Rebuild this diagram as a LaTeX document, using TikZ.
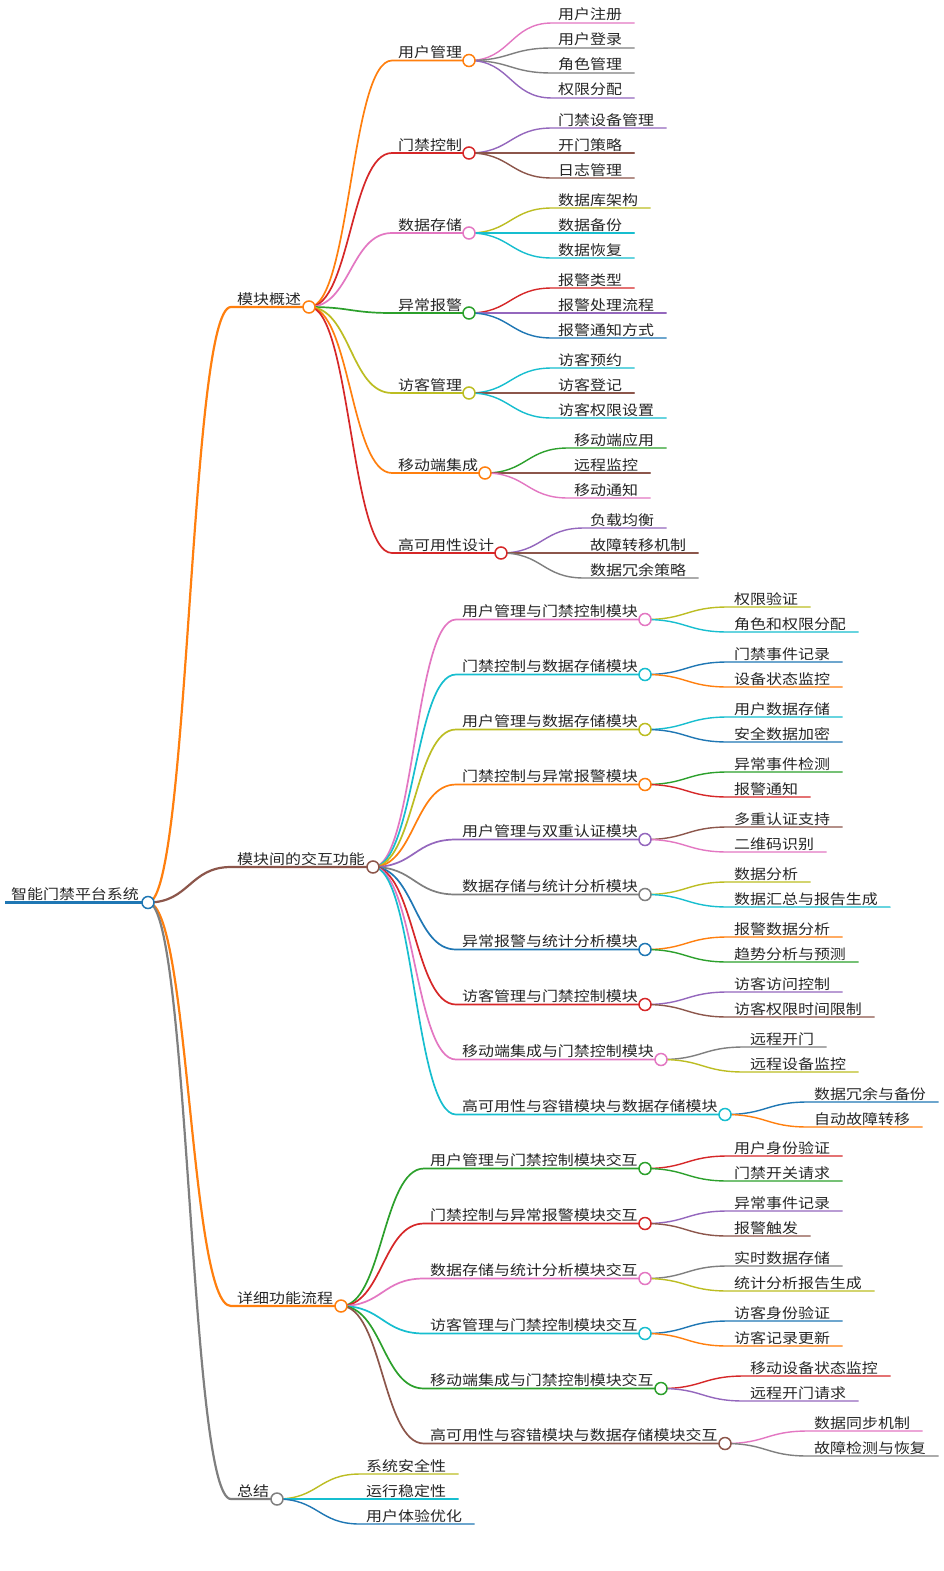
\documentclass[tikz,border=0pt]{standalone}
\usepackage{fontspec}
\newfontfamily\cjk[FakeStretch=1.14]{Noto Sans CJK SC}
\usetikzlibrary{calc}
\definecolor{cB}{HTML}{1F77B4}
\definecolor{cO}{HTML}{FF7F0E}
\definecolor{cGr}{HTML}{2CA02C}
\definecolor{cR}{HTML}{D62728}
\definecolor{cPu}{HTML}{9467BD}
\definecolor{cBr}{HTML}{8C564B}
\definecolor{cPk}{HTML}{E377C2}
\definecolor{cG}{HTML}{7F7F7F}
\definecolor{cOl}{HTML}{BCBD22}
\definecolor{cC}{HTML}{17BECF}
\pgfdeclarelayer{back}\pgfdeclarelayer{bg}\pgfsetlayers{back,bg,main}
\tikzset{
  mmcirc/.style={circle, fill=white, line width=1.5pt, minimum size=12pt, inner sep=0pt},
  mmtext/.style={anchor=base west, inner sep=0pt, font=\cjk\fontsize{14}{16}\selectfont, text=black!85},
}
\newcommand\inode[6]{%
  \coordinate (#1s) at (#2,#3);
  \node[mmcirc,draw=#6] (#1) at (#4,#3) {};
  \node[mmtext] (#1t) at (#2+6,#3-3) {#5};}
\newcommand\leafnode[4]{%
  \coordinate (#1s) at (#2,#3);
  \node[mmtext] (#1t) at (#2+6,#3-3) {#4};
  \coordinate (#1) at ($(#1t.east |- #1s)+(12,0)$);}
\newcommand\mmedge[4]{%
  \begin{pgfonlayer}{bg}
  \draw[#3,line width=#4pt,line cap=round] let \p1=(#1.center), \p2=(#2s) in (\p1) .. controls ({(\x1+\x2)/2},\y1) and ({(\x1+\x2)/2},\y2) .. (\p2) -- (#2.center);
  \end{pgfonlayer}}
\begin{document}
\begin{tikzpicture}[x=1pt,y=-1pt]
\begin{pgfonlayer}{back}\fill[white] (0,0) rectangle (944,1571);\end{pgfonlayer}
\useasboundingbox (0,0) rectangle (944,1571);
% root
\inode{R}{5}{902.5}{148}{智能门禁平台系统}{cB}
\begin{pgfonlayer}{bg}\draw[cB,line width=3.2pt] (Rs) -- (R.center);\end{pgfonlayer}
% level 1
\inode{A}{231}{307}{309}{模块概述}{cO}\mmedge{R}{A}{cO}{2.2}
\inode{B}{231}{867}{373}{模块间的交互功能}{cBr}\mmedge{R}{B}{cBr}{2.2}
\inode{C}{231}{1306}{341}{详细功能流程}{cO}\mmedge{R}{C}{cO}{2.2}
\inode{D}{231}{1499}{277}{总结}{cG}\mmedge{R}{D}{cG}{2.2}
% A children
\inode{A1}{392}{60.5}{469}{用户管理}{cO}\mmedge{A}{A1}{cO}{1.7}
\inode{A2}{392}{153}{469}{门禁控制}{cR}\mmedge{A}{A2}{cR}{1.7}
\inode{A3}{392}{233}{469}{数据存储}{cPk}\mmedge{A}{A3}{cPk}{1.7}
\inode{A4}{392}{313}{469}{异常报警}{cGr}\mmedge{A}{A4}{cGr}{1.7}
\inode{A5}{392}{393}{469}{访客管理}{cOl}\mmedge{A}{A5}{cOl}{1.7}
\inode{A6}{392}{473}{485}{移动端集成}{cO}\mmedge{A}{A6}{cO}{1.7}
\inode{A7}{392}{553}{501}{高可用性设计}{cR}\mmedge{A}{A7}{cR}{1.7}
\leafnode{A1a}{552}{23}{用户注册}\mmedge{A1}{A1a}{cPk}{1.4}
\leafnode{A1b}{552}{48}{用户登录}\mmedge{A1}{A1b}{cG}{1.4}
\leafnode{A1c}{552}{73}{角色管理}\mmedge{A1}{A1c}{cG}{1.4}
\leafnode{A1d}{552}{98}{权限分配}\mmedge{A1}{A1d}{cPu}{1.4}
\leafnode{A2a}{552}{128}{门禁设备管理}\mmedge{A2}{A2a}{cPu}{1.4}
\leafnode{A2b}{552}{153}{开门策略}\mmedge{A2}{A2b}{cBr}{1.4}
\leafnode{A2c}{552}{178}{日志管理}\mmedge{A2}{A2c}{cBr}{1.4}
\leafnode{A3a}{552}{208}{数据库架构}\mmedge{A3}{A3a}{cOl}{1.4}
\leafnode{A3b}{552}{233}{数据备份}\mmedge{A3}{A3b}{cC}{1.4}
\leafnode{A3c}{552}{258}{数据恢复}\mmedge{A3}{A3c}{cC}{1.4}
\leafnode{A4a}{552}{288}{报警类型}\mmedge{A4}{A4a}{cR}{1.4}
\leafnode{A4b}{552}{313}{报警处理流程}\mmedge{A4}{A4b}{cPu}{1.4}
\leafnode{A4c}{552}{338}{报警通知方式}\mmedge{A4}{A4c}{cB}{1.4}
\leafnode{A5a}{552}{368}{访客预约}\mmedge{A5}{A5a}{cC}{1.4}
\leafnode{A5b}{552}{393}{访客登记}\mmedge{A5}{A5b}{cBr}{1.4}
\leafnode{A5c}{552}{418}{访客权限设置}\mmedge{A5}{A5c}{cC}{1.4}
\leafnode{A6a}{568}{448}{移动端应用}\mmedge{A6}{A6a}{cGr}{1.4}
\leafnode{A6b}{568}{473}{远程监控}\mmedge{A6}{A6b}{cBr}{1.4}
\leafnode{A6c}{568}{498}{移动通知}\mmedge{A6}{A6c}{cPk}{1.4}
\leafnode{A7a}{584}{528}{负载均衡}\mmedge{A7}{A7a}{cPu}{1.4}
\leafnode{A7b}{584}{553}{故障转移机制}\mmedge{A7}{A7b}{cBr}{1.4}
\leafnode{A7c}{584}{578}{数据冗余策略}\mmedge{A7}{A7c}{cG}{1.4}
% B children
\inode{B1}{456}{619.5}{645}{用户管理与门禁控制模块}{cPk}\mmedge{B}{B1}{cPk}{1.7}
\inode{B2}{456}{674.5}{645}{门禁控制与数据存储模块}{cC}\mmedge{B}{B2}{cC}{1.7}
\inode{B3}{456}{729.5}{645}{用户管理与数据存储模块}{cOl}\mmedge{B}{B3}{cOl}{1.7}
\inode{B4}{456}{784.5}{645}{门禁控制与异常报警模块}{cO}\mmedge{B}{B4}{cO}{1.7}
\inode{B5}{456}{839.5}{645}{用户管理与双重认证模块}{cPu}\mmedge{B}{B5}{cPu}{1.7}
\inode{B6}{456}{894.5}{645}{数据存储与统计分析模块}{cG}\mmedge{B}{B6}{cG}{1.7}
\inode{B7}{456}{949.5}{645}{异常报警与统计分析模块}{cB}\mmedge{B}{B7}{cB}{1.7}
\inode{B8}{456}{1004.5}{645}{访客管理与门禁控制模块}{cR}\mmedge{B}{B8}{cR}{1.7}
\inode{B9}{456}{1059.5}{661}{移动端集成与门禁控制模块}{cPk}\mmedge{B}{B9}{cPk}{1.7}
\inode{B10}{456}{1114.5}{725}{高可用性与容错模块与数据存储模块}{cC}\mmedge{B}{B10}{cC}{1.7}
\leafnode{B1a}{728}{607}{权限验证}\mmedge{B1}{B1a}{cOl}{1.4}
\leafnode{B1b}{728}{632}{角色和权限分配}\mmedge{B1}{B1b}{cC}{1.4}
\leafnode{B2a}{728}{662}{门禁事件记录}\mmedge{B2}{B2a}{cB}{1.4}
\leafnode{B2b}{728}{687}{设备状态监控}\mmedge{B2}{B2b}{cO}{1.4}
\leafnode{B3a}{728}{717}{用户数据存储}\mmedge{B3}{B3a}{cC}{1.4}
\leafnode{B3b}{728}{742}{安全数据加密}\mmedge{B3}{B3b}{cB}{1.4}
\leafnode{B4a}{728}{772}{异常事件检测}\mmedge{B4}{B4a}{cGr}{1.4}
\leafnode{B4b}{728}{797}{报警通知}\mmedge{B4}{B4b}{cR}{1.4}
\leafnode{B5a}{728}{827}{多重认证支持}\mmedge{B5}{B5a}{cBr}{1.4}
\leafnode{B5b}{728}{852}{二维码识别}\mmedge{B5}{B5b}{cPk}{1.4}
\leafnode{B6a}{728}{882}{数据分析}\mmedge{B6}{B6a}{cOl}{1.4}
\leafnode{B6b}{728}{907}{数据汇总与报告生成}\mmedge{B6}{B6b}{cC}{1.4}
\leafnode{B7a}{728}{937}{报警数据分析}\mmedge{B7}{B7a}{cO}{1.4}
\leafnode{B7b}{728}{962}{趋势分析与预测}\mmedge{B7}{B7b}{cGr}{1.4}
\leafnode{B8a}{728}{992}{访客访问控制}\mmedge{B8}{B8a}{cPu}{1.4}
\leafnode{B8b}{728}{1017}{访客权限时间限制}\mmedge{B8}{B8b}{cBr}{1.4}
\leafnode{B9a}{744}{1047}{远程开门}\mmedge{B9}{B9a}{cG}{1.4}
\leafnode{B9b}{744}{1072}{远程设备监控}\mmedge{B9}{B9b}{cOl}{1.4}
\leafnode{B10a}{808}{1102}{数据冗余与备份}\mmedge{B10}{B10a}{cB}{1.4}
\leafnode{B10b}{808}{1127}{自动故障转移}\mmedge{B10}{B10b}{cO}{1.4}
% C children
\inode{C1}{424}{1168.5}{645}{用户管理与门禁控制模块交互}{cGr}\mmedge{C}{C1}{cGr}{1.7}
\inode{C2}{424}{1223.5}{645}{门禁控制与异常报警模块交互}{cR}\mmedge{C}{C2}{cR}{1.7}
\inode{C3}{424}{1278.5}{645}{数据存储与统计分析模块交互}{cPk}\mmedge{C}{C3}{cPk}{1.7}
\inode{C4}{424}{1333.5}{645}{访客管理与门禁控制模块交互}{cC}\mmedge{C}{C4}{cC}{1.7}
\inode{C5}{424}{1388.5}{661}{移动端集成与门禁控制模块交互}{cGr}\mmedge{C}{C5}{cGr}{1.7}
\inode{C6}{424}{1443.5}{725}{高可用性与容错模块与数据存储模块交互}{cBr}\mmedge{C}{C6}{cBr}{1.7}
\leafnode{C1a}{728}{1156}{用户身份验证}\mmedge{C1}{C1a}{cR}{1.4}
\leafnode{C1b}{728}{1181}{门禁开关请求}\mmedge{C1}{C1b}{cGr}{1.4}
\leafnode{C2a}{728}{1211}{异常事件记录}\mmedge{C2}{C2a}{cPu}{1.4}
\leafnode{C2b}{728}{1236}{报警触发}\mmedge{C2}{C2b}{cBr}{1.4}
\leafnode{C3a}{728}{1266}{实时数据存储}\mmedge{C3}{C3a}{cG}{1.4}
\leafnode{C3b}{728}{1291}{统计分析报告生成}\mmedge{C3}{C3b}{cOl}{1.4}
\leafnode{C4a}{728}{1321}{访客身份验证}\mmedge{C4}{C4a}{cB}{1.4}
\leafnode{C4b}{728}{1346}{访客记录更新}\mmedge{C4}{C4b}{cO}{1.4}
\leafnode{C5a}{744}{1376}{移动设备状态监控}\mmedge{C5}{C5a}{cR}{1.4}
\leafnode{C5b}{744}{1401}{远程开门请求}\mmedge{C5}{C5b}{cPu}{1.4}
\leafnode{C6a}{808}{1431}{数据同步机制}\mmedge{C6}{C6a}{cPk}{1.4}
\leafnode{C6b}{808}{1456}{故障检测与恢复}\mmedge{C6}{C6b}{cG}{1.4}
% D children
\leafnode{D1}{360}{1474}{系统安全性}\mmedge{D}{D1}{cOl}{1.4}
\leafnode{D2}{360}{1499}{运行稳定性}\mmedge{D}{D2}{cC}{1.4}
\leafnode{D3}{360}{1524}{用户体验优化}\mmedge{D}{D3}{cB}{1.4}
\end{tikzpicture}
\end{document}
